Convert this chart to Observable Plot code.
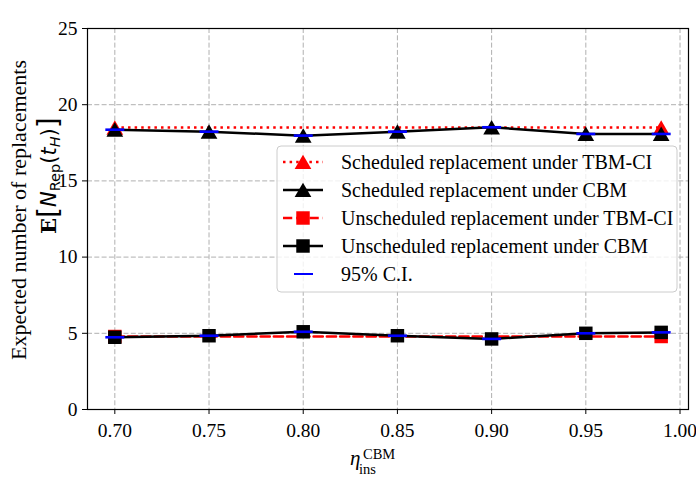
<!DOCTYPE html>
<html><head><meta charset="utf-8">
<script src="https://cdn.jsdelivr.net/npm/d3@7"></script>
<script src="https://cdn.jsdelivr.net/npm/@observablehq/plot@0.6"></script>
<style>
body{margin:0;background:#fff}
#chart{width:696px;height:500px}
</style>
</head><body><div id="chart"></div>
<script>
// ---- data ----
const eta = [0.70, 0.75, 0.80, 0.85, 0.90, 0.95, 0.99];
const schedCBM = [18.36, 18.23, 17.97, 18.23, 18.52, 18.08, 18.08];
const unschedCBM = [4.74, 4.84, 5.1, 4.84, 4.63, 5.0, 5.06];
const etaTBM = [0.70, 0.99];
const schedTBM = [18.5, 18.5];
const unschedTBM = [4.79, 4.79];
const xTicks = [0.70, 0.75, 0.80, 0.85, 0.90, 0.95, 1.00];
const yTicks = [0, 5, 10, 15, 20, 25];
const legendLabels = [
  "Scheduled replacement under TBM-CI",
  "Scheduled replacement under CBM",
  "Unscheduled replacement under TBM-CI",
  "Unscheduled replacement under CBM",
  "95% C.I."
];

const rows = (xs, ys) => xs.map((x, i) => ({x, y: ys[i]}));
const sTBM = rows(etaTBM, schedTBM), sCBM = rows(eta, schedCBM);
const uTBM = rows(etaTBM, unschedTBM), uCBM = rows(eta, unschedCBM);

const serif = "'Liberation Serif','Times New Roman',serif";
const triR = 6.2, sqR = 7.6, triDy = 2.3;
const hbar = {draw(ctx, size) { const w = Math.sqrt(size); ctx.moveTo(-w/2, 0); ctx.lineTo(w/2, 0); }};
const grid = {stroke: "#b0b0b0", strokeWidth: 1, strokeDasharray: "5,2.3"};

const chart = Plot.plot({
  width: 696, height: 500,
  marginLeft: 87, marginRight: 8, marginTop: 28, marginBottom: 91,
  style: {fontFamily: serif, fontSize: "19.5px", background: "white", color: "black", overflow: "visible"},
  x: {domain: [0.6855, 1.0045], ticks: xTicks, tickFormat: d3.format(".2f"), tickSize: 5, tickPadding: 9, label: null},
  y: {domain: [0, 25], ticks: yTicks, tickSize: 5, tickPadding: 5, label: null},
  marks: [
    Plot.ruleX(xTicks, grid),
    Plot.ruleY(yTicks, grid),
    Plot.line(sTBM, {x: "x", y: "y", stroke: "#ff0000", strokeWidth: 2.5, strokeDasharray: "2.5,4.1", strokeLinecap: "butt"}),
    Plot.dot(sTBM, {x: "x", y: "y", symbol: "triangle", r: triR, fill: "#ff0000", dy: triDy}),
    Plot.line(sCBM, {x: "x", y: "y", stroke: "black", strokeWidth: 2.5}),
    Plot.dot(sCBM, {x: "x", y: "y", symbol: "triangle", r: triR, fill: "black", dy: triDy}),
    Plot.line(uTBM, {x: "x", y: "y", stroke: "#ff0000", strokeWidth: 2.5, strokeDasharray: "9.25,4"}),
    Plot.dot(uTBM, {x: "x", y: "y", symbol: "square", r: sqR, fill: "#ff0000"}),
    Plot.line(uCBM, {x: "x", y: "y", stroke: "black", strokeWidth: 2.5}),
    Plot.dot(uCBM, {x: "x", y: "y", symbol: "square", r: sqR, fill: "black"}),
    Plot.dot(sCBM, {x: "x", y: "y", symbol: hbar, r: 10.7, fill: "none", stroke: "#0000ff", strokeWidth: 2.6}),
    Plot.dot(uCBM, {x: "x", y: "y", symbol: hbar, r: 10.7, fill: "none", stroke: "#0000ff", strokeWidth: 2.6}),
    Plot.frame({stroke: "black", strokeWidth: 1.2})
  ]
});
document.getElementById("chart").appendChild(chart);

const svg = d3.select(chart);

// ---- legend ----
const lg = svg.append("g").attr("text-anchor", "start");
lg.append("rect").attr("x", 277).attr("y", 146).attr("width", 400).attr("height", 146)
  .attr("rx", 4).attr("fill", "white").attr("fill-opacity", 0.8).attr("stroke", "#cccccc").attr("stroke-width", 1);
const rowY = [162, 190, 218, 246, 274];
const styles = [
  {color: "#ff0000", dash: "2.5,4.1", sym: d3.symbolTriangle, r: triR, dy: triDy},
  {color: "black", dash: null, sym: d3.symbolTriangle, r: triR, dy: triDy},
  {color: "#ff0000", dash: "9.25,4", sym: d3.symbolSquare, r: sqR, dy: 0},
  {color: "black", dash: null, sym: d3.symbolSquare, r: sqR, dy: 0},
  {color: "#0000ff", dash: null, sym: null}
];
legendLabels.forEach((lab, i) => {
  const s = styles[i], y = rowY[i];
  if (s.sym) {
    lg.append("line").attr("x1", 283).attr("x2", 323).attr("y1", y).attr("y2", y)
      .attr("stroke", s.color).attr("stroke-width", 2.5).attr("stroke-dasharray", s.dash);
    lg.append("path").attr("d", d3.symbol(s.sym, Math.PI * s.r * s.r)())
      .attr("transform", `translate(303,${y + s.dy})`).attr("fill", s.color);
  } else {
    lg.append("line").attr("x1", 294).attr("x2", 313).attr("y1", y).attr("y2", y)
      .attr("stroke", s.color).attr("stroke-width", 2);
  }
  lg.append("text").attr("x", 341).attr("y", y + 6.5).attr("font-family", serif)
    .attr("font-size", 20).attr("fill", "black").attr("text-anchor", "start").text(lab);
});

// ---- y label ----
svg.append("text").attr("transform", "translate(26,210) rotate(-90)")
  .attr("text-anchor", "middle").attr("font-family", serif).attr("font-size", 22).attr("fill", "black")
  .text("Expected number of replacements");
const sans = "'DejaVu Sans',sans-serif";
const yl2 = svg.append("text").attr("transform", "translate(56,234) rotate(-90)")
  .attr("text-anchor", "start").attr("font-family", sans).attr("font-size", 21).attr("fill", "black");
yl2.append("tspan").attr("font-weight", "bold").attr("font-family", "'DejaVu Serif',serif").text("E");
yl2.append("tspan").attr("font-size", 28).attr("dy", 2).text("[");
yl2.append("tspan").attr("font-style", "italic").attr("dy", -2).text("N");
yl2.append("tspan").attr("font-size", 14.5).attr("dy", 4).text("Rep");
yl2.append("tspan").attr("dy", -4).text("(");
yl2.append("tspan").attr("font-style", "italic").text("t");
yl2.append("tspan").attr("font-style", "italic").attr("font-size", 14.5).attr("dy", 4).text("H");
yl2.append("tspan").attr("dy", -4).text(")");
yl2.append("tspan").attr("font-size", 28).attr("dy", 2).text("]");

// ---- x label ----
const xl = svg.append("text").attr("font-family", serif).attr("fill", "black").attr("text-anchor", "start");
xl.append("tspan").attr("x", 350).attr("y", 465).attr("font-size", 21).attr("font-style", "italic").text("η");
xl.append("tspan").attr("x", 359).attr("y", 474).attr("font-size", 14.5).text("ins");
xl.append("tspan").attr("x", 363).attr("y", 459).attr("font-size", 14.5).text("CBM");
</script></body></html>
